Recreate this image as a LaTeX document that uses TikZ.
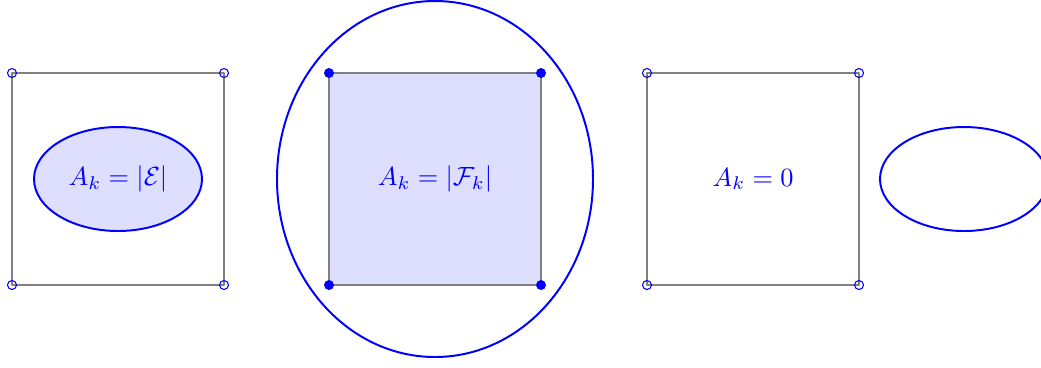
\documentclass[tikz,border=0pt]{standalone}
\usepackage{amsmath,amssymb}
\usetikzlibrary{calc}

\begin{document}
\begin{tikzpicture}[x=0.01335cm,y=-0.01335cm,
  line cap=round,
  line join=round,
  box/.style={draw=gray,line width=0.8pt},
  blob/.style={draw=blue,line width=0.75pt},
  every node/.style={text=blue}]

  % 描画範囲
  \useasboundingbox (0,0) rectangle (1041,367);
  \clip (0,0) rectangle (1041,367);

  % 各正方形の中心
  \coordinate (P1) at (118,179);
  \coordinate (P2) at (435,179);
  \coordinate (P3) at (753,179);
  \coordinate (E4) at (964,179);

  % 左：正方形の内側の楕円
  \draw[box] ($(P1)+(-106,-106)$) rectangle ($(P1)+(106,106)$);
  \filldraw[blob,fill=blue!13] (P1) ellipse[x radius=84,y radius=52];
  \node (t1) at (P1) {$A_k=|\mathcal{E}|$};
  \foreach \dx/\dy in {-106/-106,106/-106,-106/106,106/106}
    \draw[blue,line width=0.4pt] ($(P1)+(\dx,\dy)$) circle[radius=4.5];

  % 中央：正方形を囲む楕円
  \filldraw[box,fill=blue!13] ($(P2)+(-106,-106)$) rectangle ($(P2)+(106,106)$);
  \draw[blob] (P2) ellipse[x radius=158,y radius=178];
  \node (t2) at (P2) {$A_k=|\mathcal{F}_k|$};
  \foreach \dx/\dy in {-106/-106,106/-106,-106/106,106/106}
    \fill[blue] ($(P2)+(\dx,\dy)$) circle[radius=5];

  % 右：離れた楕円
  \draw[box] ($(P3)+(-106,-106)$) rectangle ($(P3)+(106,106)$);
  \node (t3) at (P3) {$A_k=0$};
  \foreach \dx/\dy in {-106/-106,106/-106,-106/106,106/106}
    \draw[blue,line width=0.4pt] ($(P3)+(\dx,\dy)$) circle[radius=4.5];
  \draw[blob] (E4) ellipse[x radius=84,y radius=52];

\end{tikzpicture}
\end{document}
